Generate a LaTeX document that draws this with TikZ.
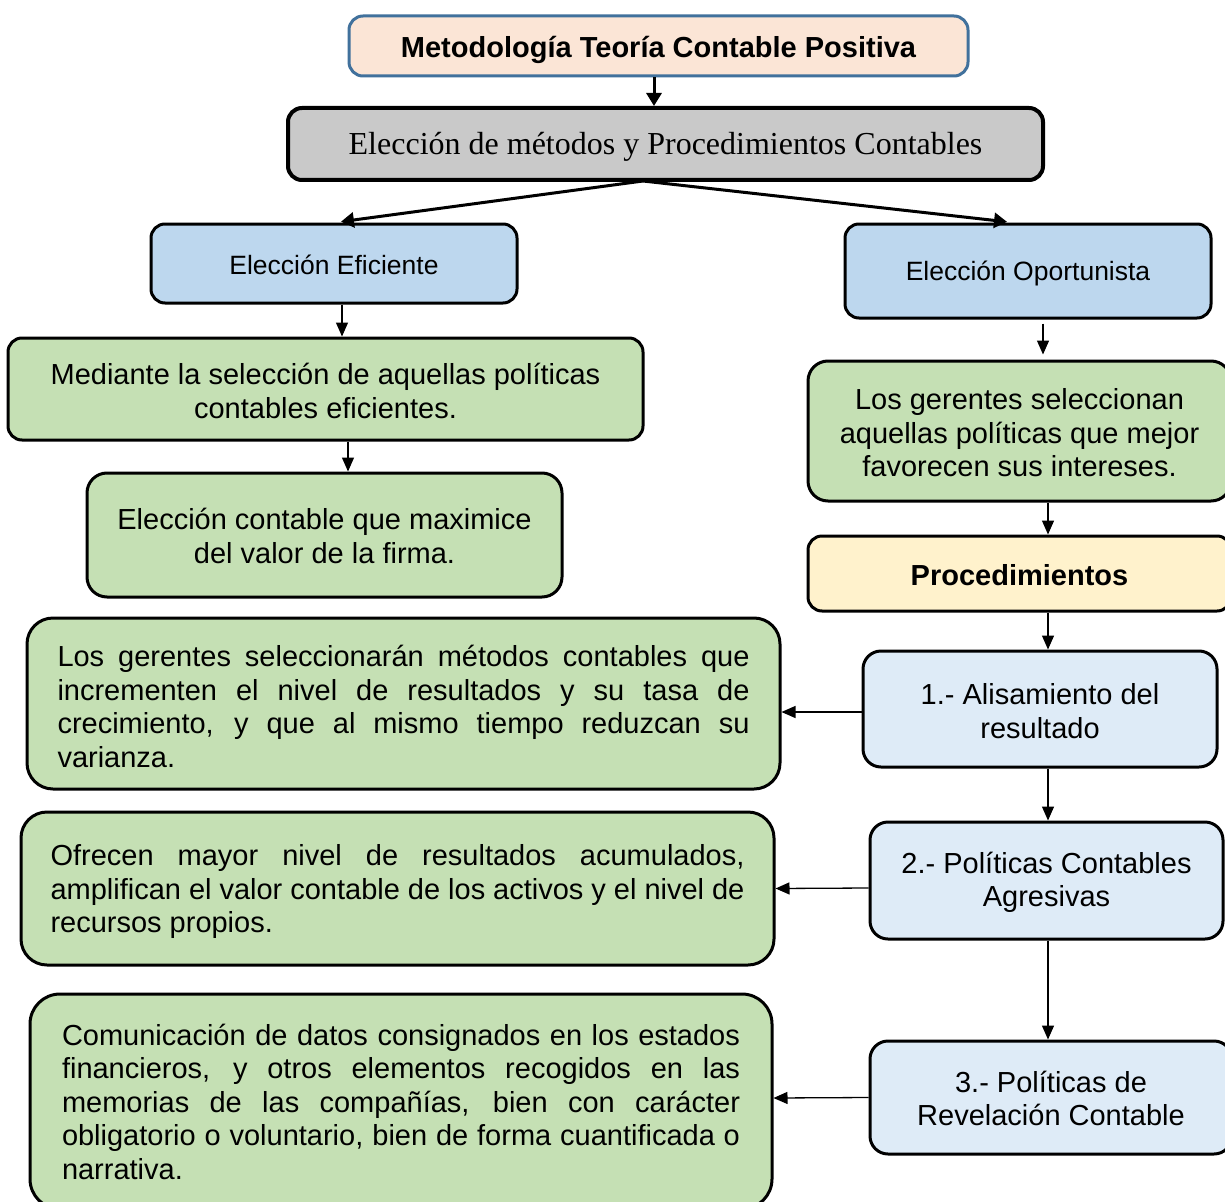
\documentclass[tikz,border=0pt]{standalone}
\usepackage{fontspec}
\setmainfont{Liberation Sans}
\newfontfamily\timesfam{Liberation Serif}
\usetikzlibrary{arrows.meta}
\definecolor{peach}{HTML}{FBE5D6}
\definecolor{titleline}{HTML}{41719C}
\definecolor{greybox}{HTML}{C9C9C9}
\definecolor{bluebox}{HTML}{BDD7EE}
\definecolor{greenbox}{HTML}{C5E0B4}
\definecolor{yellowbox}{HTML}{FFF2CC}
\definecolor{paleblue}{HTML}{DEEBF7}
% lower the printed text a little inside its box, keeping the box size
\newcommand{\dropby}[2]{\raisebox{-#1}[\height][\depth]{#2}}
\tikzset{
  box/.style={draw=black, line width=3pt, rounded corners=14pt, inner sep=0pt,
    align=center, font=\fontsize{29}{33.5}\selectfont},
  widebox/.style={box, rounded corners=26pt, align=justify},
  thick arrow/.style={line width=3pt, -{Triangle[width=15pt,length=13pt]}},
  thin arrow/.style={line width=1.3pt, -{Triangle[width=12pt,length=14pt]}},
}
\begin{document}
\begin{tikzpicture}[x=1pt,y=-1pt]
\useasboundingbox[fill=white] (0,0) rectangle (1225,1201);

% top of the chart
\node[box, draw=titleline, fill=peach, minimum width=619, minimum height=60,
  font=\fontsize{29}{33.5}\selectfont\bfseries] (title) at (658.5,46)
  {\dropby{4pt}{Metodología Teoría Contable Positiva}};
\node[box, line width=4pt, fill=greybox, minimum width=755, minimum height=72,
  font=\fontsize{32}{36}\selectfont\timesfam] (choice) at (665.5,144)
  {\dropby{3pt}{Elección de métodos y Procedimientos Contables}};

% efficient branch
\node[box, fill=bluebox, minimum width=366, minimum height=79,
  font=\fontsize{26.5}{31}\selectfont] (ef) at (334,263.5) {\dropby{1pt}{Elección Eficiente}};
\node[box, fill=greenbox, minimum width=635, minimum height=102] (med) at (325.5,389)
  {\dropby{2pt}{\parbox{635pt}{\centering Mediante la selección de aquellas políticas\\contables eficientes.}}};
\node[box, fill=greenbox, rounded corners=20pt, minimum width=475, minimum height=124] (max) at (324.5,535)
  {\dropby{1pt}{\parbox{475pt}{\centering Elección contable que maximice\\del valor de la firma.}}};

% opportunistic branch
\node[box, fill=bluebox, minimum width=366, minimum height=94,
  font=\fontsize{26.5}{31}\selectfont] (op) at (1028,271) {\dropby{2pt}{Elección Oportunista}};
\node[box, fill=greenbox, rounded corners=20pt, minimum width=423, minimum height=140] (ger) at (1019.5,431)
  {\dropby{2pt}{\parbox{423pt}{\centering Los gerentes seleccionan\\aquellas políticas que mejor\\favorecen sus intereses.}}};
\node[box, fill=yellowbox, minimum width=423, minimum height=75,
  font=\fontsize{29}{33.5}\selectfont\bfseries] (proc) at (1019.5,573.5) {\dropby{2pt}{Procedimientos}};

% procedures
\node[box, fill=paleblue, rounded corners=18pt, minimum width=354, minimum height=116] (p1) at (1040,709)
  {\dropby{2pt}{\parbox{354pt}{\centering 1.- Alisamiento del\\resultado}}};
\node[box, fill=paleblue, rounded corners=18pt, minimum width=353, minimum height=117] (p2) at (1046.5,880.5)
  {\dropby{2pt}{\parbox{353pt}{\centering 2.- Políticas Contables\\Agresivas}}};
\node[box, fill=paleblue, rounded corners=18pt, minimum width=362, minimum height=113] (p3) at (1051,1097.5)
  {\dropby{1pt}{\parbox{362pt}{\centering 3.- Políticas de\\Revelación Contable}}};

% descriptions of the procedures
\node[widebox, fill=greenbox, text width=692, minimum width=753, minimum height=171] (d1) at (403.5,703.5)
  {\dropby{3pt}{\parbox{692pt}{Los gerentes seleccionarán métodos contables que\linebreak incrementen el nivel de resultados y su tasa de\linebreak crecimiento, y que al mismo tiempo reduzcan su\linebreak varianza.}}};
\node[widebox, fill=greenbox, text width=694, minimum width=753, minimum height=153] (d2) at (397.5,888.5)
  {\dropby{3pt}{\parbox{694pt}{Ofrecen mayor nivel de resultados acumulados,\linebreak amplifican el valor contable de los activos y el nivel de\linebreak recursos propios.}}};
\node[widebox, fill=greenbox, rounded corners=30pt, text width=678, minimum width=742, minimum height=215] (d3) at (401,1101.5)
  {Comunicación de datos consignados en los estados\linebreak financieros, y otros elementos recogidos en las\linebreak memorias de las compañías, bien con carácter\linebreak obligatorio o voluntario, bien de forma cuantificada o\linebreak narrativa.};

% connectors
\coordinate (split) at (643,181);
\draw[thick arrow] ([xshift=-4.5pt]title.south) -- ([xshift=-11.5pt]choice.north);
\draw[thick arrow, shorten >=6pt] (split) -- ([xshift=1pt]ef.north);
\draw[thick arrow, shorten >=6pt] (split) -- ([xshift=-15pt]op.north);
\draw[thin arrow] ([xshift=8pt]ef.south) -- ([xshift=16.5pt]med.north);
\draw[thin arrow] ([xshift=22.5pt]med.south) -- ([xshift=23.5pt]max.north);
\draw[thin arrow, shorten >=5pt] ([xshift=15pt,yshift=-4pt]op.south) -- ([xshift=23.5pt]ger.north);
\draw[thin arrow] ([xshift=28.5pt]ger.south) -- ([xshift=28.5pt]proc.north);
\draw[thin arrow] ([xshift=28.5pt]proc.south) -- ([xshift=8pt]p1.north);
\draw[thin arrow] ([xshift=8pt]p1.south) -- ([xshift=1.5pt]p2.north);
\draw[thin arrow] ([xshift=1.5pt]p2.south) -- ([xshift=-3pt]p3.north);
\draw[thin arrow] ([yshift=-3pt]p1.west) -- ([yshift=-8.5pt]d1.east);
\draw[thin arrow] ([yshift=-7.5pt]p2.west) -- (d2.east);
\draw[thin arrow] (p3.west) -- ([yshift=3.5pt]d3.east);
\end{tikzpicture}
\end{document}
